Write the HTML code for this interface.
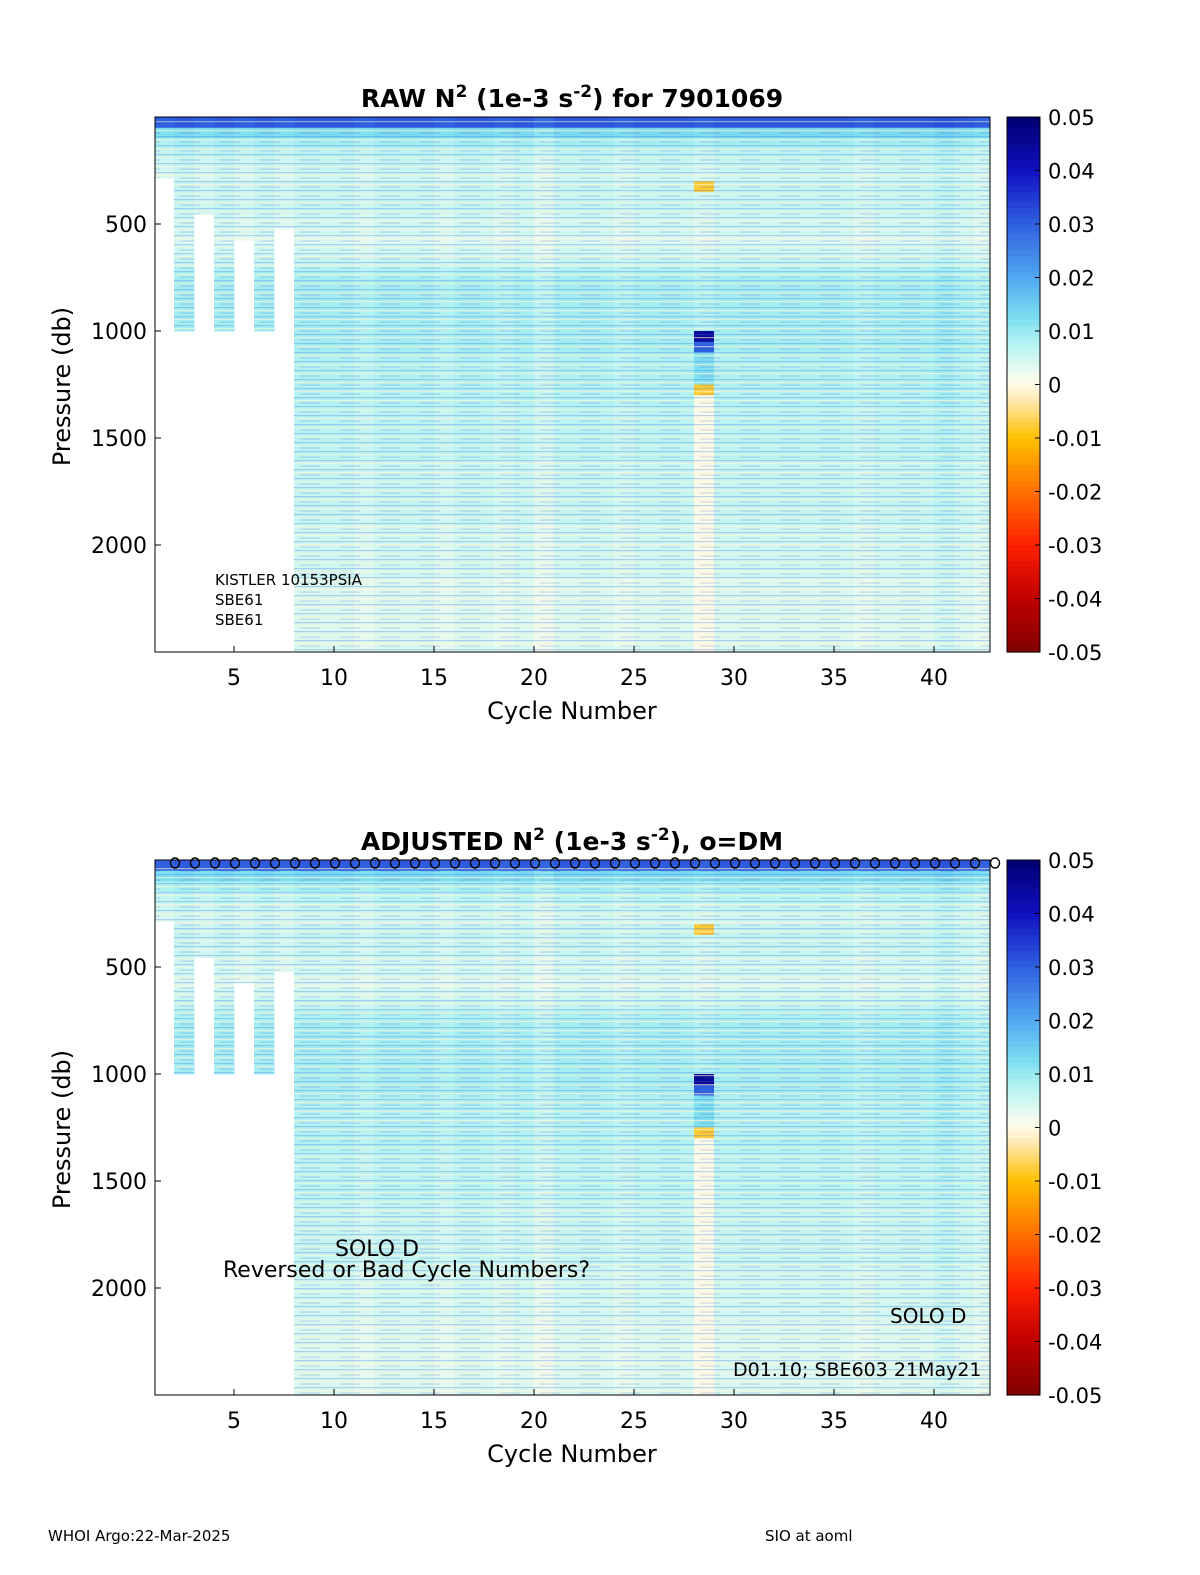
<!DOCTYPE html>
<html><head><meta charset="utf-8"><style>
html,body{margin:0;padding:0;background:#fff;overflow:hidden;width:1200px;height:1575px}
svg{display:block}
svg text{font-family:"DejaVu Sans","Liberation Sans",sans-serif}
</style></head><body>
<svg id="fig" width="1200" height="1575" viewBox="0 0 1200 1575" xmlns="http://www.w3.org/2000/svg">
<defs>
<pattern id="stripes" width="40" height="9" patternUnits="userSpaceOnUse">
<rect x="0" y="1" width="40" height="1.2" fill="#3a70e0" opacity="0.3"/>
<rect x="0" y="4" width="40" height="1.2" fill="#fff4d0" opacity="0.6"/>
<rect x="20" y="6.5" width="20" height="1.1" fill="#2040c0" opacity="0.2"/>
</pattern>
</defs>
<g id="panels"></g>
<text x="48" y="1541" font-size="15">WHOI Argo:22-Mar-2025</text>
<text x="765" y="1541" font-size="15">SIO at aoml</text>
</svg>
<script>
const cycles = Array.from({length:42},(_,i)=>i+1);
const maxDepth = [285,1000,455,1000,575,1000,520,2500,2500,2500,2500,2500,2500,2500,2500,2500,2500,2500,2500,2500,2500,2500,2500,2500,2500,2500,2500,2500,2500,2500,2500,2500,2500,2500,2500,2500,2500,2500,2500,2500,2500,2500];
const depthBins = Array.from({length:50},(_,i)=>i*50);
const profile = [.03,.012,.008,.006,.005,.004,.005,.005,.005,.004,.004,.003,.004,.005,.007,.008,.008,.008,.008,.008,.008,.008,.007,.007,.007,.007,.007,.006,.006,.006,.006,.006,.005,.005,.005,.005,.005,.005,.004,.004,.004,.004,.004,.003,.003,.003,.003,.003,.003,.003];
const cycleOffset = [0,.001,0,.001,0,.001,0,.001,.001,.001,0,.001,.001,.001,0,.001,.001,0,.001,-.001,.001,.001,.001,0,.001,.001,.001,0,.001,.001,.001,.001,.001,.001,.001,0,.001,.001,.001,.002,.001,0];
const anomalies = [
 {cycle:28,from:300,to:350,value:-0.008},
 {cycle:28,from:1000,to:1050,value:0.045},
 {cycle:28,from:1050,to:1100,value:0.03},
 {cycle:28,from:1100,to:1250,value:0.012},
 {cycle:28,from:1250,to:1300,value:-0.008},
 {cycle:28,from:1300,to:2500,value:0.0005}
];
const cbTicks = [0.05,0.04,0.03,0.02,0.01,0,-0.01,-0.02,-0.03,-0.04,-0.05];
const cbLabels = ["0.05","0.04","0.03","0.02","0.01","0","-0.01","-0.02","-0.03","-0.04","-0.05"];
const xTicks = [5,10,15,20,25,30,35,40];
const yTicks = [500,1000,1500,2000];
const dmCycles = cycles;

const stops=[[-0.05,[128,0,0]],[-0.04,[192,0,0]],[-0.03,[255,32,0]],[-0.02,[255,112,0]],[-0.01,[255,192,0]],[-0.003,[255,232,176]],[0,[255,251,232]],[0.003,[228,250,240]],[0.008,[176,242,242]],[0.012,[128,224,240]],[0.02,[80,168,240]],[0.03,[48,96,224]],[0.04,[16,16,192]],[0.05,[0,0,112]]];
function cmap(v){v=Math.max(-0.05,Math.min(0.05,v));for(let i=0;i<stops.length-1;i++){const[a,ca]=stops[i],[b,cb]=stops[i+1];if(v<=b){const t=(v-a)/(b-a);return`rgb(${ca.map((c,k)=>Math.round(c+(cb[k]-c)*t)).join(',')})`;}}return'rgb(0,0,112)';}
const NS='http://www.w3.org/2000/svg';
function el(tag,attrs,parent,txt){const e=document.createElementNS(NS,tag);for(const k in attrs)e.setAttribute(k,attrs[k]);if(txt!==undefined)e.textContent=txt;parent.appendChild(e);return e;}
const root=document.getElementById('panels');
function panel(top,titleParts,name,adjusted){
 const L=155,R=990,T=top,B=top+535;
 const x=c=>234+(c-5)*20, y=p=>T+p*(B-T)/2500;
 const g=el('g',{},root);
 
 
 el('clipPath',{id:'clip'+name},g);
 el('rect',{x:L,y:T,width:R-L,height:B-T},g.lastChild);
 const hm=el('g',{'clip-path':`url(#clip${name})`},g);
 
 
 cycles.forEach((c,ci)=>{
  depthBins.forEach((d,di)=>{
   if(d>=maxDepth[ci])return;
   let v=profile[di]+cycleOffset[ci];
   anomalies.forEach(a=>{if(a.cycle===c&&d>=a.from&&d<a.to)v=a.value;});
   const r=el('rect',{x:x(c),y:y(d),width:20.5,height:y(Math.min(d+50,maxDepth[ci]))-y(d)+0.5,fill:cmap(v)},hm);
   
   
  });
  const s=el('rect',{x:x(c),y:y(20),width:20,height:y(maxDepth[ci])-y(20),fill:'url(#stripes)'},hm);
  
  
 });
 el('rect',{x:L,y:T,width:R-L,height:B-T,fill:'none',stroke:'#000','stroke-width':1},g);
 xTicks.forEach(t=>{el('line',{x1:x(t),x2:x(t),y1:B,y2:B-6,stroke:'#000'},g);const tx=el('text',{x:x(t),y:B+33,'font-size':22,'text-anchor':'middle'},g,t);});
 yTicks.forEach(t=>{el('line',{x1:L,x2:L+6,y1:y(t),y2:y(t),stroke:'#000'},g);const tx=el('text',{x:L-8,y:y(t)+8,'font-size':22,'text-anchor':'end'},g,t);});
 const xl=el('text',{x:572,y:B+67,'font-size':24,'text-anchor':'middle'},g,'Cycle Number');
 
 const yl=el('text',{x:0,y:0,'font-size':24,'text-anchor':'middle',transform:`translate(70,${(T+B)/2+2}) rotate(-90)`},g,'Pressure (db)');
 
 const ti=el('text',{x:572,y:T-10,'font-size':25,'font-weight':'bold','text-anchor':'middle'},g);
 
 titleParts.forEach(p=>{el('tspan',p.sup?{'font-size':17,dy:p.dy}:{dy:p.dy||0},ti,p.t);});
 const CL=1007,CR=1040,cy=v=>T+(0.05-v)*(B-T)/0.1;
 const cb=el('g',{},g);
 for(let i=0;i<100;i++){const v=0.05-i*0.001;el('rect',{x:CL,y:cy(v),width:CR-CL,height:(B-T)/100+0.6,fill:cmap(v-0.0005)},cb);}
 el('rect',{x:CL,y:T,width:CR-CL,height:B-T,fill:'none',stroke:'#000'},cb);
 cbTicks.forEach((t,i)=>{el('line',{x1:CR,x2:CR-5,y1:cy(t),y2:cy(t),stroke:'#000'},cb);const tx=el('text',{x:1048,y:cy(t)+8,'font-size':21},cb,cbLabels[i]);});
 if(adjusted){
  dmCycles.forEach(c=>{const o=el('ellipse',{cx:x(c)+21,cy:T+3,rx:4.5,ry:5,fill:'none',stroke:'#000','stroke-width':1.4},g);});
 }
 return g;
}
const g1=panel(117,[{t:'RAW N'},{t:'2',sup:1,dy:-10},{t:' (1e-3 s',dy:10},{t:'-2',sup:1,dy:-10},{t:') for 7901069',dy:10}],'raw-panel',false);
const g2=panel(860,[{t:'ADJUSTED N'},{t:'2',sup:1,dy:-10},{t:' (1e-3 s',dy:10},{t:'-2',sup:1,dy:-10},{t:'), o=DM',dy:10}],'adjusted-panel',true);
function lab(g,x,y,s,t,n){const e=el('text',{x,y,'font-size':s},g,t);}
lab(g1,215,585,15,'KISTLER 10153PSIA','sensor-label');
lab(g1,215,605,15,'SBE61','sensor-label');
lab(g1,215,625,15,'SBE61','sensor-label');
lab(g2,335,1256,22,'SOLO D','solo-label');
lab(g2,223,1277,22,'Reversed or Bad Cycle Numbers?','warning-label');
lab(g2,890,1323,20,'SOLO D','solo-label-right');
lab(g2,733,1376,19,'D01.10; SBE603 21May21','firmware-label');
</script>
</body></html>
